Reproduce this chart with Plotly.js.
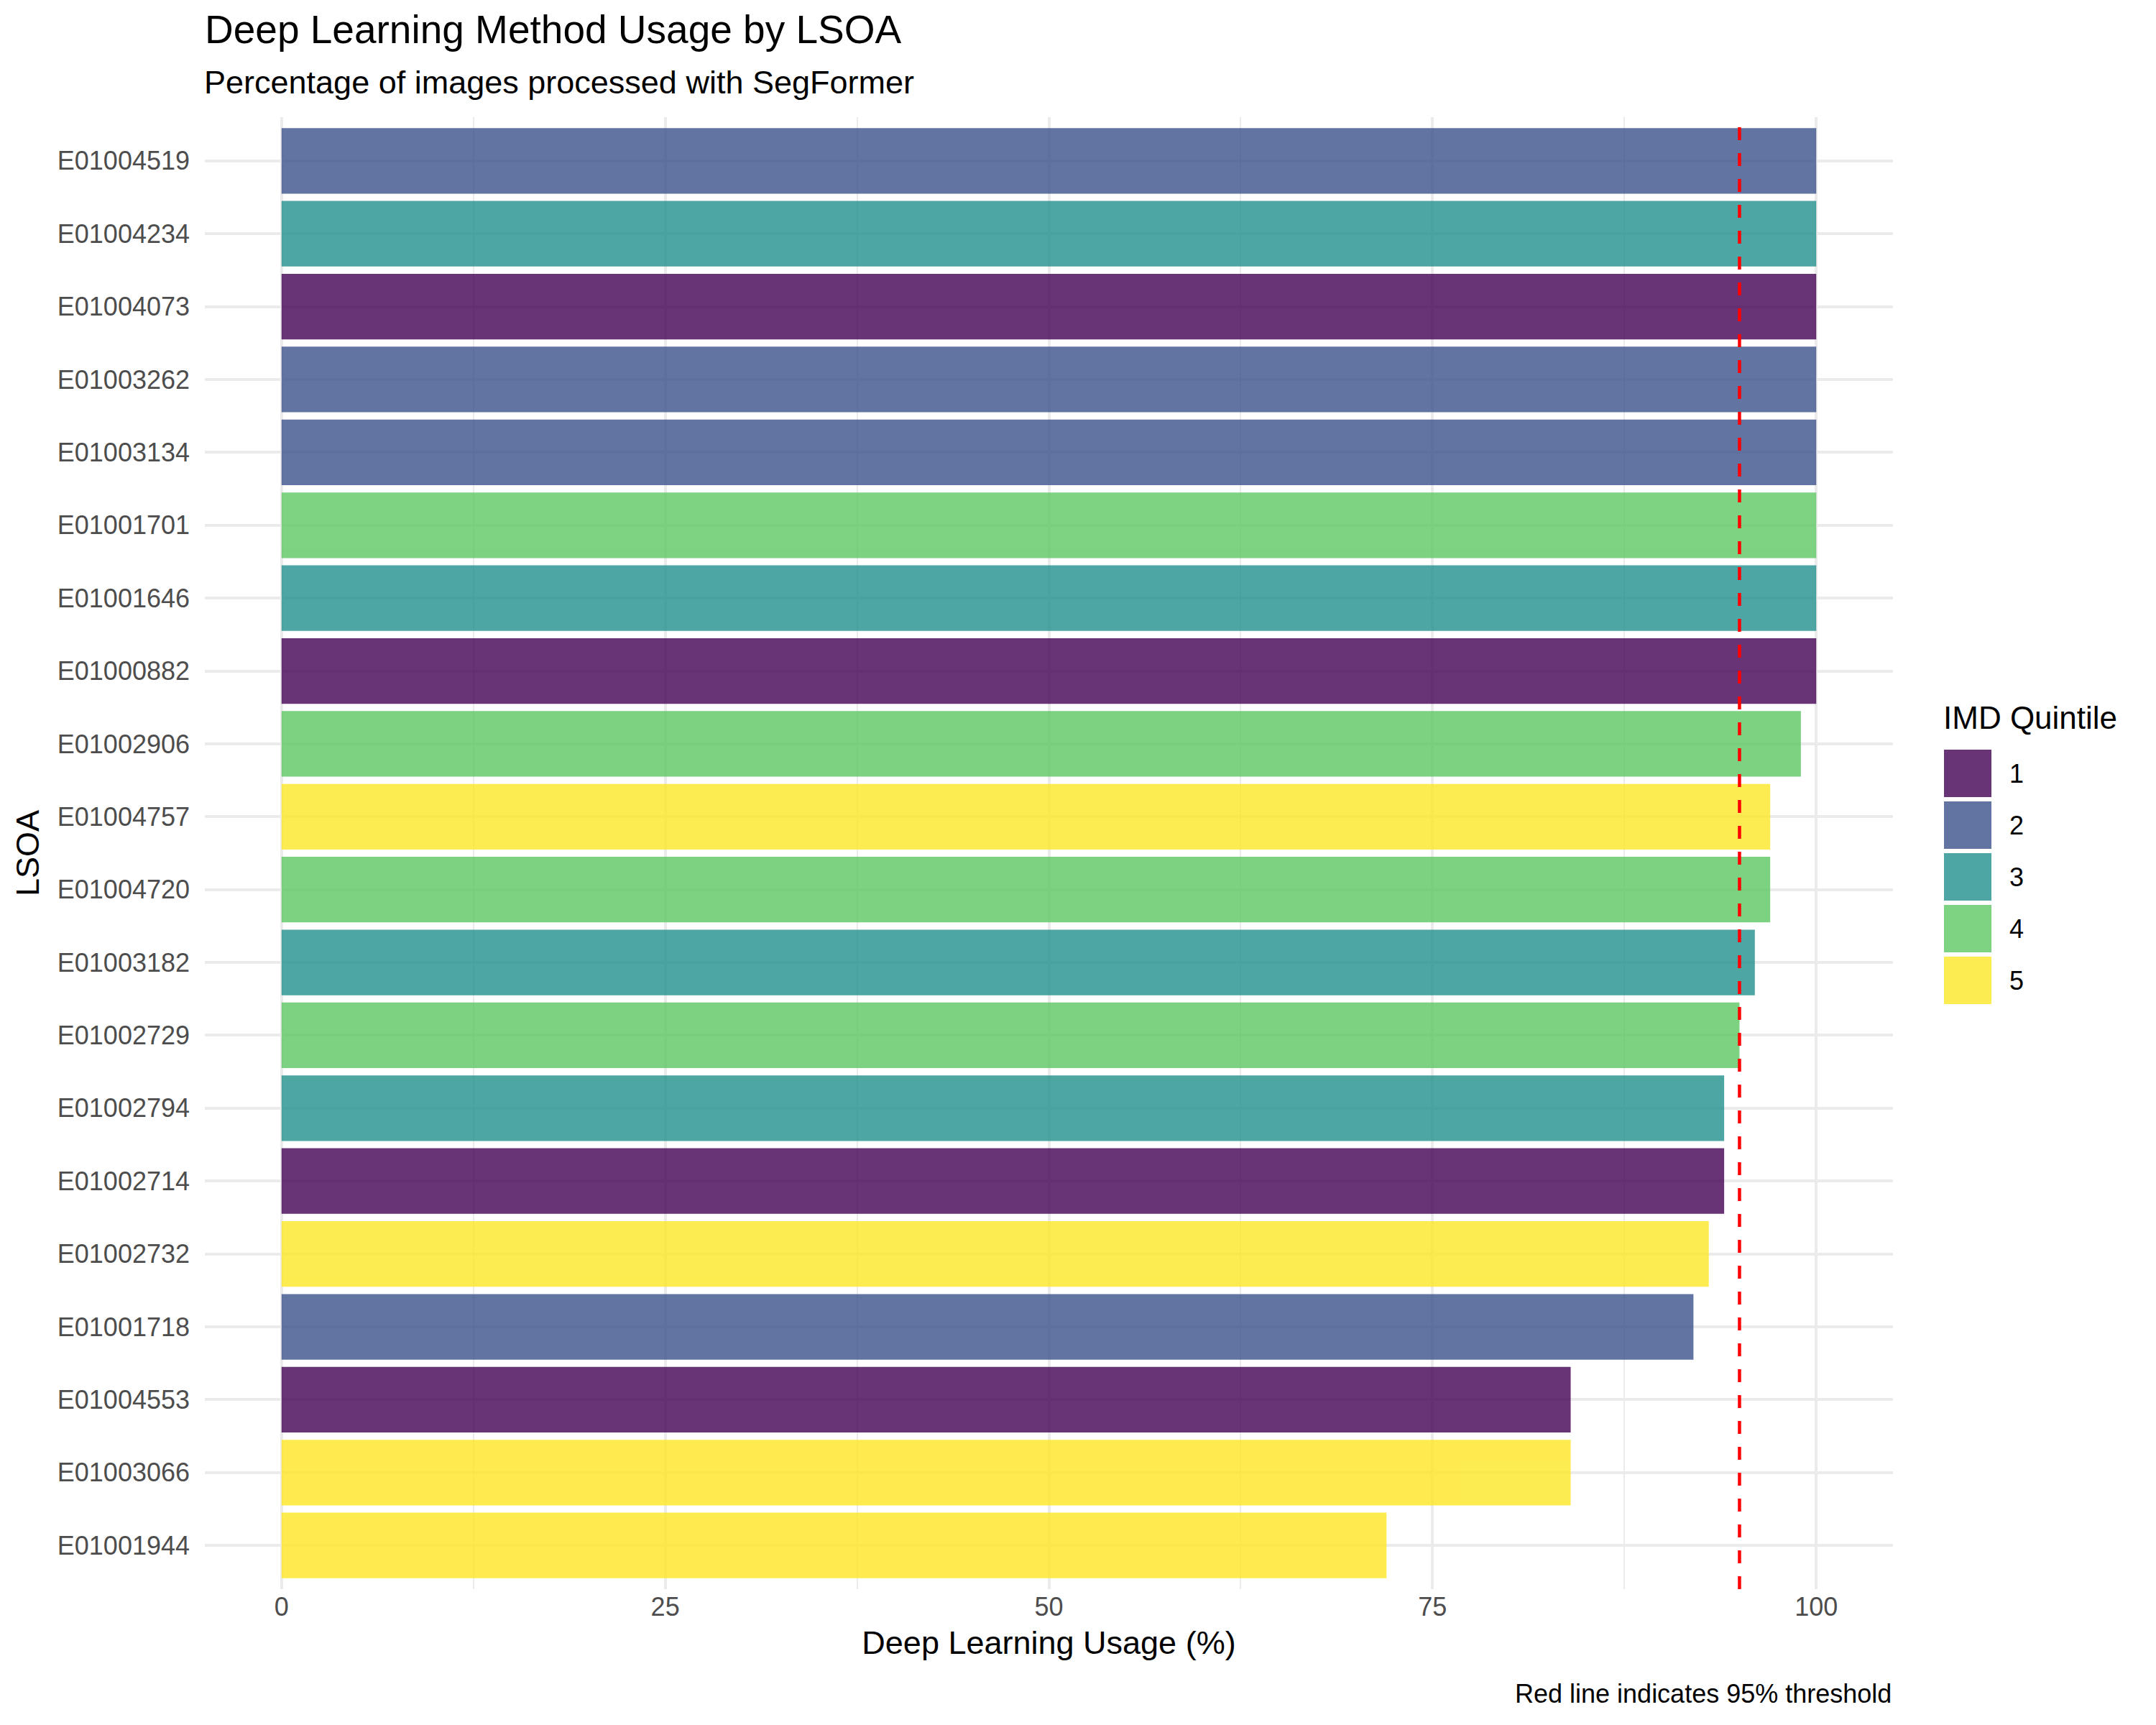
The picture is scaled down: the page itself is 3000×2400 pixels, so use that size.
<!DOCTYPE html>
<html>
<head>
<meta charset="utf-8">
<script src="https://cdn.plot.ly/plotly-3.0.1.min.js"></script>
<style>html,body{margin:0;padding:0;background:#fff;}#chart{width:3000px;height:2400px;}</style>
</head>
<body>
<div id="chart"></div>
<script>
// ---- data (top to bottom as drawn) ----
const lsoaCodes = ["E01004519","E01004234","E01004073","E01003262","E01003134","E01001701","E01001646","E01000882","E01002906","E01004757","E01004720","E01003182","E01002729","E01002794","E01002714","E01002732","E01001718","E01004553","E01003066","E01001944"];
const usagePct = [100,100,100,100,100,100,100,100,99,97,97,96,95,94,94,93,92,84,84,72];
const imdQuintile = [2,3,1,2,2,4,3,1,4,5,4,3,4,3,1,5,2,1,5,5];
const quintileLabels = ["1","2","3","4","5"];
const quintileColors = ["#440154","#3B528B","#21908C","#5DC863","#FDE725"];
const thresholdPct = 95;
const xTicks = [0,25,50,75,100];
const xMinorTicks = [12.5,37.5,62.5,87.5];

const FONT = '"Liberation Sans", Arial, Helvetica, sans-serif';
const W = 3000, H = 2400;
const PL = 285, PR = 2634, PT = 163, PB = 2211;
const px2x = p => (p - PL) / (PR - PL);
const py2y = p => (PB - p) / (PB - PT);

const traces = quintileLabels.map((q, qi) => {
  const idx = imdQuintile.map((v, i) => v === qi + 1 ? i : -1).filter(i => i >= 0);
  return {
    type: 'bar', orientation: 'h', name: q,
    y: idx.map(i => lsoaCodes[i]),
    x: idx.map(i => usagePct[i]),
    marker: {color: quintileColors[qi], line: {width: 0}},
    opacity: 0.8, width: 0.9, showlegend: false,
    hovertemplate: '%{y}: %{x}%<extra>IMD ' + q + '</extra>'
  };
});

const shapes = [{
  type: 'line', xref: 'x', yref: 'paper', x0: thresholdPct, x1: thresholdPct, y0: 0, y1: 1,
  line: {color: '#FF0000', width: 4.5, dash: '18px,18px'}, layer: 'above'
}];
const annotations = [];

// subtitle
annotations.push({
  xref: 'paper', yref: 'paper', x: px2x(282), y: py2y(114), xanchor: 'left', yanchor: 'middle',
  text: 'Percentage of images processed with SegFormer', showarrow: false,
  font: {family: FONT, size: 45, color: '#000'}
});

// custom legend (ggplot-style large keys)
const keyLeft = 2705, keySize = 66, keyStep = 72, keyTop0 = 1043;
annotations.push({
  xref: 'paper', yref: 'paper', x: px2x(keyLeft - 3), y: py2y(998), xanchor: 'left', yanchor: 'middle',
  text: 'IMD Quintile', showarrow: false, font: {family: FONT, size: 44, color: '#000'}
});
quintileLabels.forEach((q, i) => {
  const top = keyTop0 + i * keyStep;
  shapes.push({
    type: 'rect', xref: 'paper', yref: 'paper',
    x0: px2x(keyLeft), x1: px2x(keyLeft + keySize), y0: py2y(top + keySize), y1: py2y(top),
    fillcolor: quintileColors[i], opacity: 0.8, line: {width: 0}
  });
  annotations.push({
    xref: 'paper', yref: 'paper', x: px2x(2794), y: py2y(top + keySize / 2), xanchor: 'left', yanchor: 'middle',
    text: q, showarrow: false, font: {family: FONT, size: 36, color: '#000'}
  });
});
// caption
annotations.push({
  xref: 'paper', yref: 'paper', x: 1, y: py2y(2356), xanchor: 'right', yanchor: 'middle',
  text: 'Red line indicates 95% threshold', showarrow: false, font: {family: FONT, size: 36, color: '#000'}
});

const layout = {
  width: W, height: H,
  paper_bgcolor: '#FFFFFF', plot_bgcolor: '#FFFFFF',
  font: {family: FONT, color: '#000'},
  margin: {l: PL, r: W - PR, t: PT, b: H - PB, pad: 0},
  title: {
    text: 'Deep Learning Method Usage by LSOA',
    font: {family: FONT, size: 55, color: '#000'},
    xref: 'container', yref: 'container', x: PL / W, xanchor: 'left', y: 1 - 21 / H, yanchor: 'top'
  },
  barmode: 'overlay',
  xaxis: {
    range: [-5, 105], tickvals: xTicks, ticktext: xTicks.map(String), ticks: '',
    showgrid: true, gridcolor: '#EBEBEB', gridwidth: 4, zeroline: false, showline: false,
    minor: {tickvals: xMinorTicks, showgrid: true, gridcolor: '#EBEBEB', gridwidth: 2, ticks: ''},
    tickfont: {family: FONT, size: 36, color: '#4D4D4D'},
    title: {text: 'Deep Learning Usage (%)', font: {family: FONT, size: 45, color: '#000'}, standoff: 14}
  },
  yaxis: {
    type: 'category', categoryorder: 'array', categoryarray: lsoaCodes,
    range: [lsoaCodes.length - 0.4, -0.6],
    ticks: '', ticklabelstandoff: 20,
    showgrid: true, gridcolor: '#EBEBEB', gridwidth: 4, zeroline: false, showline: false,
    tickfont: {family: FONT, size: 36, color: '#4D4D4D'},
    title: {text: 'LSOA', font: {family: FONT, size: 45, color: '#000'}, standoff: 11}
  },
  shapes: shapes,
  annotations: annotations
};

Plotly.newPlot('chart', traces, layout, {displayModeBar: false, staticPlot: true});
</script>
</body>
</html>
